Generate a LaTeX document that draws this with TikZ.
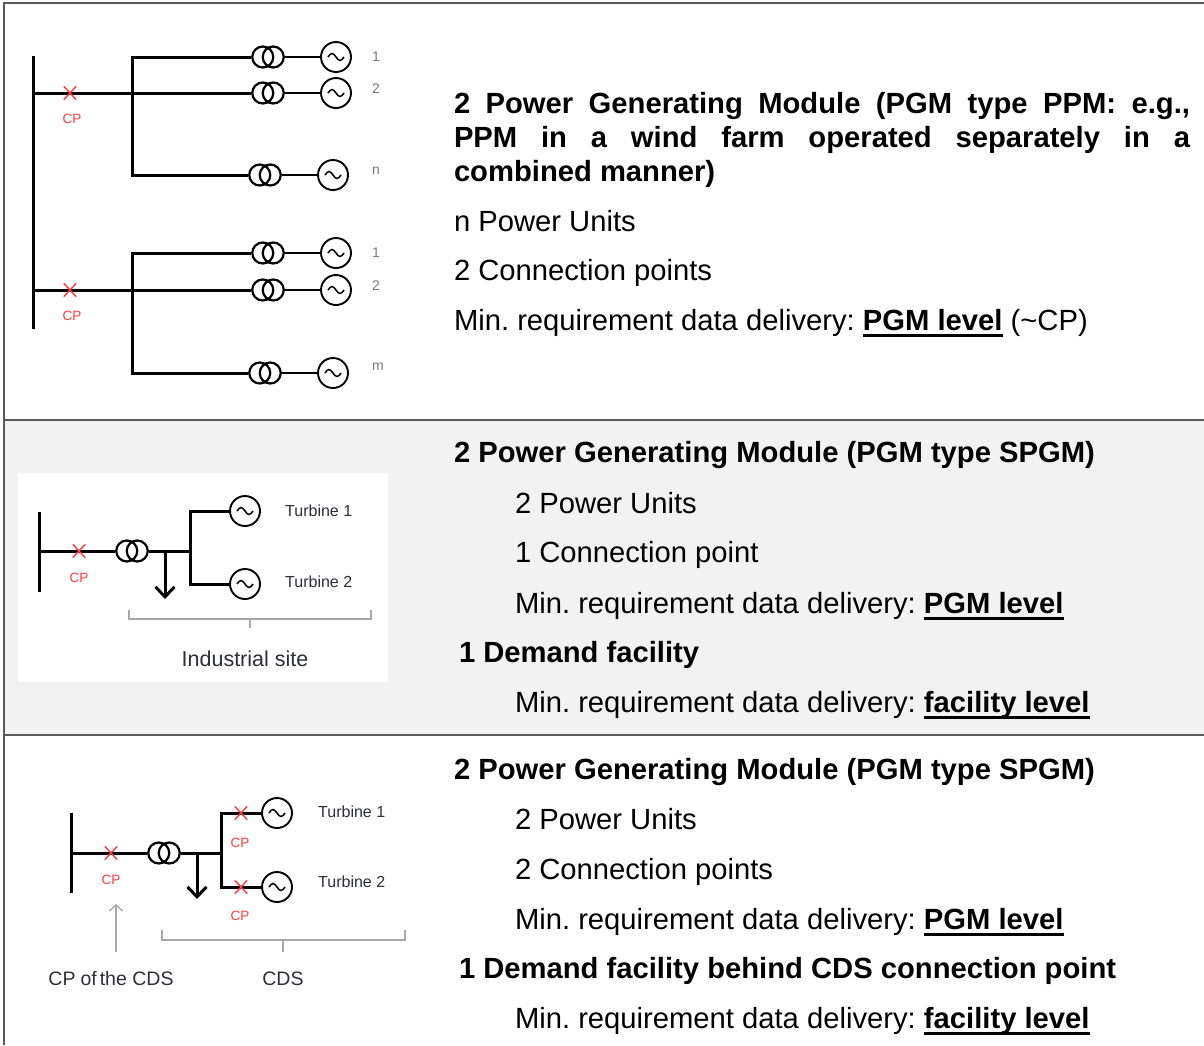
\documentclass[tikz,border=0pt]{standalone}
\usepackage{fontspec}
\setmainfont{Liberation Sans}
\newsavebox{\myulbox}
\newcommand{\ULbf}[1]{\sbox{\myulbox}{\bfseries #1}\rlap{\rule[-6.5pt]{\wd\myulbox}{2.6pt}}\usebox{\myulbox}}
\usetikzlibrary{arrows.meta,shapes.misc}
\definecolor{bordergray}{HTML}{5A5A5A}
\definecolor{rowgray}{HTML}{F2F2F2}
\definecolor{cpred}{HTML}{FF3B3B}
\definecolor{numgray}{HTML}{7A7A7A}
\definecolor{bracegray}{HTML}{A8A8A8}
\definecolor{labdark}{HTML}{2E2E38}
\newcommand{\Xfmr}[2]{\node[xform] (#1) at (#2) {};\draw[xfline] ([xshift=-5.25pt]#1.center) circle[radius=10.5pt] ([xshift=5.25pt]#1.center) circle[radius=10.5pt];}
\newcommand{\Bigtxt}{\fontsize{29.2}{34}\selectfont\frenchspacing}
\frenchspacing
\begin{document}
\begin{tikzpicture}[x=1pt,y=-1pt,
  bus/.style={line width=3pt,line cap=rect},
  feeder/.style={line width=3pt,line join=miter},
  short/.style={line width=2.6pt},
  xfline/.style={line width=2.2pt},
  xform/.style={rectangle,minimum width=33.5pt,minimum height=23pt,inner sep=0pt,outer sep=0pt},
  gen/.style={circle,draw,line width=1.9pt,minimum size=30pt,inner sep=0pt,outer sep=0pt,
    path picture={\draw[line width=1.5pt] ([xshift=-8pt]path picture bounding box.center) sin ++(4pt,3.5pt) cos ++(4pt,-3.5pt) sin ++(4pt,-3.5pt) cos ++(4pt,3.5pt);}},
  cpmark/.style={cross out,draw=cpred,line width=1.4pt,minimum width=11pt,minimum height=12pt,inner sep=0pt},
  cplabel/.style={text=cpred,font=\fontsize{13.5}{15}\selectfont,inner sep=0pt},
  numlabel/.style={text=numgray,font=\fontsize{14}{16}\selectfont,inner sep=0pt},
  turb/.style={text=labdark,font=\fontsize{16}{18}\selectfont,anchor=west,inner sep=0pt},
  sitelabel/.style={text=labdark,inner sep=0pt},
  bracket/.style={draw=bracegray,line width=1.5pt},
  loadarrow/.style={line width=3pt,-{Straight Barb[length=10pt,width=19pt]}},
  txt/.style={anchor=base west,inner sep=0pt,outer sep=0pt,font=\Bigtxt},
  btxt/.style={anchor=base west,inner sep=0pt,outer sep=0pt,font=\Bigtxt\bfseries},
  frame/.style={draw=bordergray,line width=1.5pt}
]
\useasboundingbox (0,0) rectangle (1204,1045);
% ---------- frame and backgrounds ----------
\fill[rowgray] (4,420) rectangle (1204,735);
\fill[white] (18,473) rectangle (388,682);
\coordinate (fTL) at (4,3);
\coordinate (fTR) at (1204,3);
\coordinate (fBL) at (4,1045);
\coordinate (s1L) at (4,420);
\coordinate (s1R) at (1204,420);
\coordinate (s2L) at (4,735);
\coordinate (s2R) at (1204,735);
\draw[frame] (fBL) -- (fTL) -- (fTR);
\draw[frame] (s1L) -- (s1R);
\draw[frame] (s2L) -- (s2R);

% ================= ROW 1 =================
\coordinate (b1top) at (33,57);
\coordinate (b1bot) at (33,327);
\draw[bus] (b1top) -- (b1bot);
% group A
\Xfmr{tA1}{268,57}
\Xfmr{tA2}{268,93}
\Xfmr{tAn}{265,175}
\node[gen] (gA1) at (336,57) {};
\node[gen] (gA2) at (336,93) {};
\node[gen] (gAn) at (333,175) {};
\coordinate (busA) at (33,93);
\coordinate (brAtop) at (132,57);
\coordinate (brAbot) at (132,175);
\draw[feeder] (busA) -- (tA2.west);
\draw[feeder] (tA1.west) -- (brAtop) -- (brAbot) -- (tAn.west);
\draw[short] (tA1.east) -- (gA1);
\draw[short] (tA2.east) -- (gA2);
\draw[short] (tAn.east) -- (gAn);
\node[cpmark] (cpA) at (70,93) {};
\node[cplabel] (cpAl) at (72,119) {CP};
\node[numlabel] (nA1) at (376,57) {1};
\node[numlabel] (nA2) at (376,89) {2};
\node[numlabel] (nAn) at (376,171) {n};
% group B
\Xfmr{tB1}{268,253}
\Xfmr{tB2}{268,290}
\Xfmr{tBm}{265,373}
\node[gen] (gB1) at (336,253) {};
\node[gen] (gB2) at (336,290) {};
\node[gen] (gBm) at (333,373) {};
\coordinate (busB) at (33,290);
\coordinate (brBtop) at (132,253);
\coordinate (brBbot) at (132,373);
\draw[feeder] (busB) -- (tB2.west);
\draw[feeder] (tB1.west) -- (brBtop) -- (brBbot) -- (tBm.west);
\draw[short] (tB1.east) -- (gB1);
\draw[short] (tB2.east) -- (gB2);
\draw[short] (tBm.east) -- (gBm);
\node[cpmark] (cpB) at (70,290) {};
\node[cplabel] (cpBl) at (72,316) {CP};
\node[numlabel] (nB1) at (376,253) {1};
\node[numlabel] (nB2) at (376,286) {2};
\node[numlabel] (nBm) at (378,367) {m};

% ================= ROW 2 =================
\coordinate (b2top) at (39,513);
\coordinate (b2bot) at (39,590);
\draw[bus] (b2top) -- (b2bot);
\coordinate (bus2) at (39,551);
\Xfmr{t2}{132,551}
\coordinate (br2mid) at (190,551);
\coordinate (br2top) at (190,511);
\coordinate (br2bot) at (190,584);
\node[gen] (g21) at (245,511) {};
\node[gen] (g22) at (245,584) {};
\draw[feeder] (bus2) -- (t2.west);
\draw[feeder] (t2.east) -- (br2mid);
\draw[feeder] (g21) -- (br2top) -- (br2bot) -- (g22);
\coordinate (ld2s) at (165,551);
\coordinate (ld2e) at (165,599);
\draw[loadarrow] (ld2s) -- (ld2e);
\node[cpmark] (cp2) at (79,551) {};
\node[cplabel] (cp2l) at (79,578) {CP};
\node[turb] (tu21) at (285,511) {Turbine 1};
\node[turb] (tu22) at (285,582) {Turbine 2};
\coordinate (br2a) at (129,610);
\coordinate (br2b) at (129,619);
\coordinate (br2c) at (371,619);
\coordinate (br2d) at (371,610);
\coordinate (br2t0) at (250,619);
\coordinate (br2t1) at (250,628);
\draw[bracket] (br2a) -- (br2b) -- (br2c) -- (br2d);
\draw[bracket] (br2t0) -- (br2t1);
\node[sitelabel,font=\fontsize{21.5}{24}\selectfont] (site) at (245,659) {Industrial site};

% ================= ROW 3 =================
\coordinate (b3top) at (71,814);
\coordinate (b3bot) at (71,891);
\draw[bus] (b3top) -- (b3bot);
\coordinate (bus3) at (71,853);
\Xfmr{t3}{164,853}
\coordinate (br3mid) at (221,853);
\coordinate (br3top) at (221,813);
\coordinate (br3bot) at (221,887);
\node[gen] (g31) at (277,813) {};
\node[gen] (g32) at (277,887) {};
\draw[feeder] (bus3) -- (t3.west);
\draw[feeder] (t3.east) -- (br3mid);
\draw[feeder] (g31) -- (br3top) -- (br3bot) -- (g32);
\coordinate (ld3s) at (197,853);
\coordinate (ld3e) at (197,899);
\draw[loadarrow] (ld3s) -- (ld3e);
\node[cpmark] (cp3) at (111,853) {};
\node[cplabel] (cp3l) at (111,880) {CP};
\node[cpmark] (cp31) at (241,813) {};
\node[cplabel] (cp31l) at (240,843) {CP};
\node[cpmark] (cp32) at (241,887) {};
\node[cplabel] (cp32l) at (240,916) {CP};
\node[turb] (tu31) at (318,812) {Turbine 1};
\node[turb] (tu32) at (318,882) {Turbine 2};
\node[sitelabel,font=\fontsize{19.5}{22}\selectfont] (cpcds) at (111,979) {CP\hspace{5pt}of\hspace{3pt}the CDS};
\node[sitelabel,font=\fontsize{19.5}{22}\selectfont] (cds) at (283,979) {CDS};
\coordinate (ar3s) at (116,952);
\coordinate (ar3e) at (116,904);
\draw[draw=bracegray,line width=1.3pt,-{Straight Barb[length=6pt,width=13pt]}] (ar3s) -- (ar3e);
\coordinate (br3a) at (162,930);
\coordinate (br3b) at (162,940);
\coordinate (br3c) at (405,940);
\coordinate (br3d) at (405,930);
\coordinate (br3t0) at (283,940);
\coordinate (br3t1) at (283,952);
\draw[bracket] (br3a) -- (br3b) -- (br3c) -- (br3d);
\draw[bracket] (br3t0) -- (br3t1);

% ================= TEXT =================
\node[btxt] (h1a) at (454,113) {\makebox[736pt][s]{2 Power Generating Module (PGM type PPM: e.g.,}};
\node[btxt] (h1b) at (454,147) {\makebox[736pt][s]{PPM in a wind farm operated separately in a}};
\node[btxt] (h1c) at (454,181) {combined manner)};
\node[txt] (l1a) at (454,231) {n Power Units};
\node[txt] (l1b) at (454,280) {2 Connection points};
\node[txt] (l1c) at (454,330) {Min.\ requirement data delivery: \ULbf{PGM level} (\textasciitilde CP)};

\node[btxt] (h2) at (454,462) {2 Power Generating Module (PGM type SPGM)};
\node[txt] (l2a) at (515,513) {2 Power Units};
\node[txt] (l2b) at (515,562) {1 Connection point};
\node[txt] (l2c) at (515,613) {Min.\ requirement data delivery: \ULbf{PGM level}};
\node[btxt] (l2d) at (459,662) {1 Demand facility};
\node[txt] (l2e) at (515,712) {Min.\ requirement data delivery: \ULbf{facility level}};

\node[btxt] (h3) at (454,779) {2 Power Generating Module (PGM type SPGM)};
\node[txt] (l3a) at (515,829) {2 Power Units};
\node[txt] (l3b) at (515,879) {2 Connection points};
\node[txt] (l3c) at (515,929) {Min.\ requirement data delivery: \ULbf{PGM level}};
\node[btxt] (l3d) at (459,978) {1 Demand facility behind CDS connection point};
\node[txt] (l3e) at (515,1028) {Min.\ requirement data delivery: \ULbf{facility level}};
\end{tikzpicture}
\end{document}
